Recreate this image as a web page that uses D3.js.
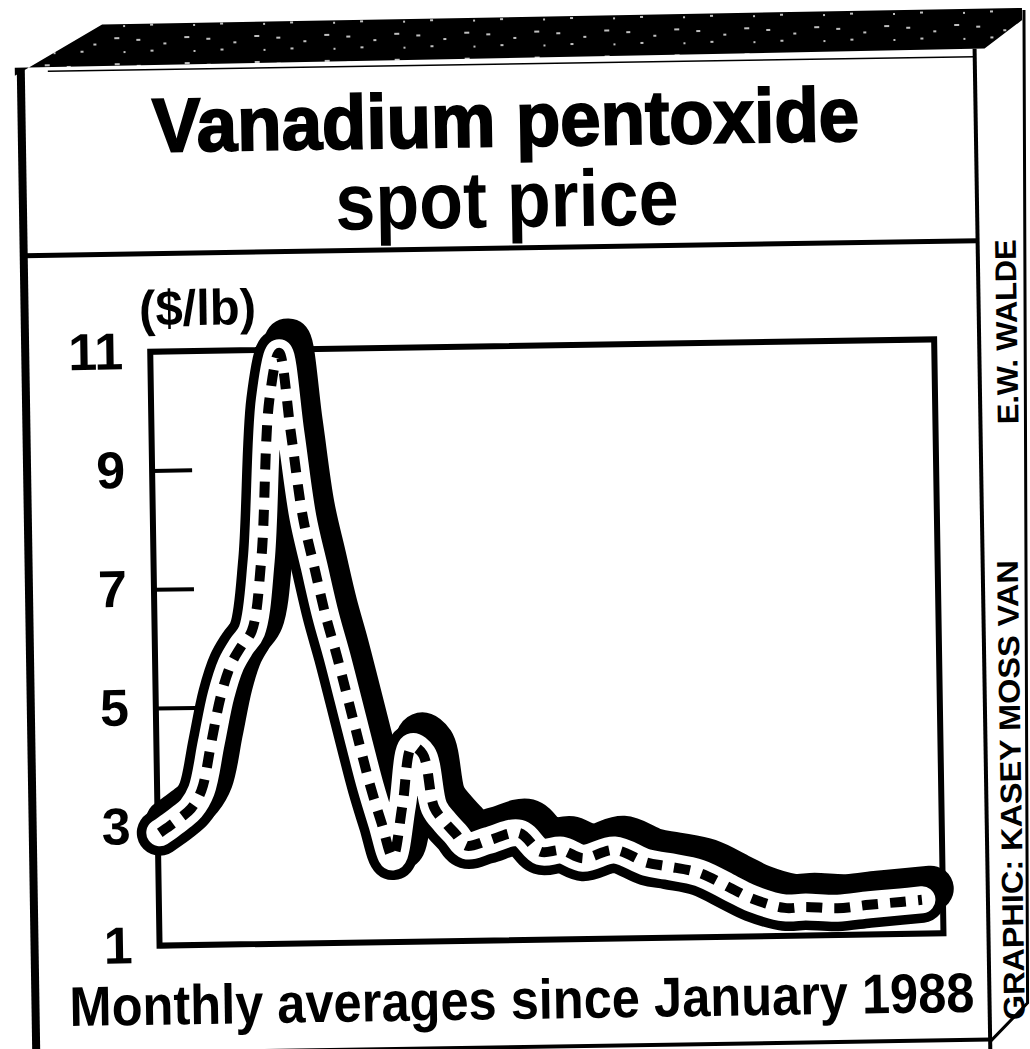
<!DOCTYPE html>
<html>
<head>
<meta charset="utf-8">
<script src="https://cdn.jsdelivr.net/npm/d3@7"></script>
<style>
  html, body { margin: 0; padding: 0; background: #fff; }
  svg { display: block; }
</style>
</head>
<body>
<script>
// Monthly vanadium pentoxide spot price, months counted from January 1988
const months = [0, 1, 2, 3, 4, 5, 6, 7, 8, 9, 10, 11, 12, 13, 14, 15, 16, 17, 18, 19,
                20, 21, 22, 23, 24, 25, 26, 27, 28, 29, 31, 34, 36, 38, 40, 43, 46, 48,
                51, 54, 56, 59, 61, 64, 67, 70, 72];
const prices = [2.90, 3.02, 3.15, 3.30, 3.60, 4.40, 5.20, 5.72, 6.02, 6.27, 7.46, 10.15, 10.95,
                9.59, 8.18, 7.34, 6.52, 5.84, 5.10, 4.35, 3.62, 3.00, 2.43, 3.30, 4.28, 4.15,
                3.25, 3.00, 2.80, 2.60, 2.68, 2.80, 2.48, 2.50, 2.36, 2.49, 2.27, 2.20,
                2.08, 1.81, 1.63, 1.47, 1.48, 1.45, 1.50, 1.54, 1.57];
const yTicks = [1, 3, 5, 7, 9, 11];
const titleMain = "Vanadium pentoxide";
const titleSub = "spot price";
const unitLabel = "($/lb)";
const caption = "Monthly averages since January 1988";
const creditLower = "GRAPHIC: KASEY MOSS VAN";
const creditUpper = "E.W. WALDE";

const W = 1030, H = 1049;
const FONT = "'Liberation Sans', Arial, Helvetica, sans-serif";

const svg = d3.select("body").append("svg")
  .attr("width", W).attr("height", H);
svg.append("rect").attr("width", W).attr("height", H).attr("fill", "#fff");

// speckled fill for the box's top band
const defs = svg.append("defs");
const speck = defs.append("pattern")
  .attr("id", "speck").attr("patternUnits", "userSpaceOnUse")
  .attr("width", 70).attr("height", 26);
speck.append("rect").attr("width", 70).attr("height", 26).attr("fill", "#000");
speck.append("path")
  .attr("d", "M4 8h4M31 12h3M52 6h5M18 19h3M61 20h2")
  .attr("stroke", "#fff").attr("stroke-width", 1.4);

// whole graphic sits slightly tilted on the page
const root = svg.append("g").attr("transform", "rotate(-0.9 515 525)");

// ---- box frame ----
const box = { left: 28, right: 982, top: 60, divider: 248, bottom: 1047 };

// dark top band with bevelled left corner
root.append("path")
  .attr("d", d3.line()([[22, 68], [110, 18], [1030, 16], [1030, 28], [992, 56], [22, 60]]) + "Z")
  .attr("fill", "url(#speck)");
root.append("line").attr("x1", 55).attr("x2", box.right)
  .attr("y1", 64).attr("y2", 64)
  .attr("stroke", "#000").attr("stroke-width", 1.5);

// side face outline
root.append("path")
  .attr("d", d3.line()([[1032, 18], [1020, 1011], [box.right, 1049]]))
  .attr("fill", "none").attr("stroke", "#000").attr("stroke-width", 3);

// front face edges
root.append("line").attr("x1", box.left).attr("x2", box.left)
  .attr("y1", 62).attr("y2", H + 10)
  .attr("stroke", "#000").attr("stroke-width", 8);
root.append("line").attr("x1", box.right).attr("x2", box.right)
  .attr("y1", 56).attr("y2", H + 10)
  .attr("stroke", "#000").attr("stroke-width", 4);
root.append("line").attr("x1", box.left).attr("x2", box.right)
  .attr("y1", box.divider).attr("y2", box.divider)
  .attr("stroke", "#000").attr("stroke-width", 5);
root.append("line").attr("x1", box.left).attr("x2", box.right)
  .attr("y1", box.bottom).attr("y2", box.bottom)
  .attr("stroke", "#000").attr("stroke-width", 4);

// ---- titles ----
root.append("text")
  .attr("x", 512).attr("y", 146)
  .attr("text-anchor", "middle")
  .attr("font-family", FONT).attr("font-weight", "bold").attr("font-size", 76)
  .attr("textLength", 707).attr("lengthAdjust", "spacingAndGlyphs")
  .attr("stroke", "#000").attr("stroke-width", 2)
  .text(titleMain);
root.append("text")
  .attr("x", 512).attr("y", 227)
  .attr("text-anchor", "middle")
  .attr("font-family", FONT).attr("font-weight", "bold").attr("font-size", 80)
  .attr("textLength", 343).attr("lengthAdjust", "spacingAndGlyphs")
  .text(titleSub);

// side credits, reading upward
const credit = (txt, cx, yStart, len) => root.append("text")
  .attr("transform", `translate(${cx},${yStart}) rotate(-90)`)
  .attr("font-family", FONT).attr("font-weight", "bold").attr("font-size", 30)
  .attr("textLength", len).attr("lengthAdjust", "spacingAndGlyphs")
  .text(txt);
credit(creditLower, 1017, 1028, 460);
credit(creditUpper, 1020, 432, 185);

// ---- chart ----
const plot = { left: 153, top: 346, right: 937, bottom: 940 };
const y = d3.scaleLinear().domain([1, 11]).range([plot.bottom, plot.top]);
const x = d3.scaleLinear().domain([0, 72]).range([155, 916]);

const axis = root.append("g")
  .attr("transform", `translate(${plot.left},0)`)
  .call(d3.axisLeft(y).tickValues(yTicks).tickSize(-40).tickPadding(27)
          .tickFormat(d3.format("d")));
axis.select(".domain").remove();
axis.selectAll(".tick line").attr("stroke", "#000").attr("stroke-width", 4);
axis.selectAll(".tick text")
  .attr("fill", "#000")
  .attr("font-family", FONT).attr("font-weight", "bold").attr("font-size", 52);

root.append("rect")
  .attr("x", plot.left).attr("y", plot.top)
  .attr("width", plot.right - plot.left).attr("height", plot.bottom - plot.top)
  .attr("fill", "none").attr("stroke", "#000").attr("stroke-width", 6);

root.append("text")
  .attr("x", 201).attr("y", 320)
  .attr("text-anchor", "middle")
  .attr("font-family", FONT).attr("font-weight", "bold").attr("font-size", 50)
  .attr("textLength", 117).attr("lengthAdjust", "spacingAndGlyphs")
  .text(unitLabel);

// price line drawn as a shaded tube with a dashed core
const series = months.map((m, i) => ({ m, v: prices[i] }));
const line = d3.line()
  .x(d => x(d.m)).y(d => y(d.v))
  .curve(d3.curveCatmullRom.alpha(0.5));
const pathD = line(series);
const tube = root.append("g")
  .attr("fill", "none")
  .attr("stroke-linejoin", "round");
tube.append("path").attr("d", pathD)
  .attr("transform", "translate(9,-11)")
  .attr("stroke", "#000").attr("stroke-width", 46).attr("stroke-linecap", "round");
tube.append("path").attr("d", pathD)
  .attr("stroke", "#000").attr("stroke-width", 46).attr("stroke-linecap", "round");
tube.append("path").attr("d", pathD)
  .attr("stroke", "#fff").attr("stroke-width", 27).attr("stroke-linecap", "round");
tube.append("path").attr("d", pathD)
  .attr("stroke", "#000").attr("stroke-width", 10)
  .attr("stroke-dasharray", "16 12");

// caption under the plot
root.append("text")
  .attr("x", 62).attr("y", 1019)
  .attr("font-family", FONT).attr("font-weight", "bold").attr("font-size", 56)
  .attr("textLength", 905).attr("lengthAdjust", "spacingAndGlyphs")
  .text(caption);
</script>
</body>
</html>
